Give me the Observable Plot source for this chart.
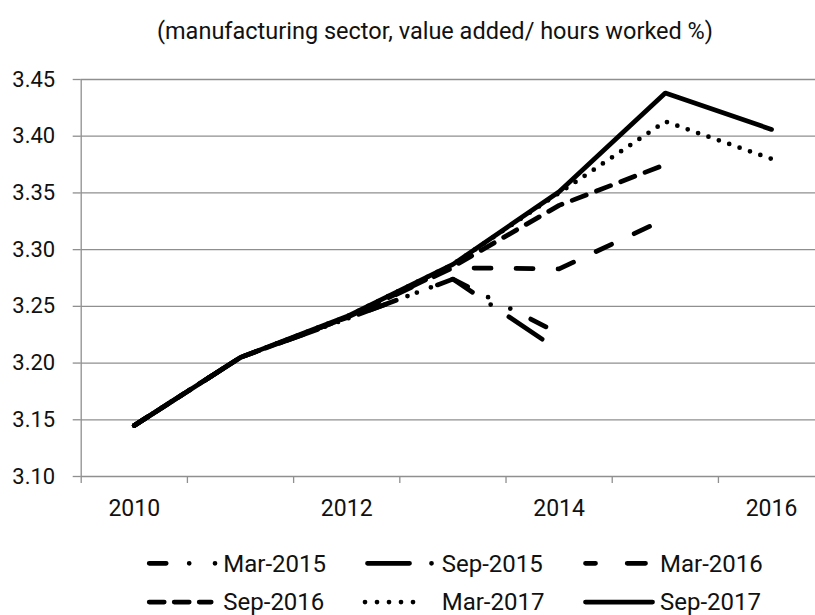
<!DOCTYPE html>
<html>
<head>
<meta charset="utf-8">
<script src="https://cdn.jsdelivr.net/npm/d3@7"></script>
<script src="https://cdn.jsdelivr.net/npm/@observablehq/plot@0.6"></script>
<style>
  body { margin: 0; background: #fff; font-family: Roboto, "Noto Sans", sans-serif; }
  #root { position: relative; width: 815px; height: 615px; overflow: hidden; background: #fff; }
  #title { position: absolute; left: 35px; width: 800px; top: 18.5px; text-align: center;
           font-size: 23.5px; line-height: 24px; color: #111; white-space: nowrap; }
  #chart { position: absolute; left: 0; top: 0; }
  #legend { position: absolute; left: 0; top: 530px; }
</style>
</head>
<body>
<div id="root">
  <div id="title">(manufacturing sector, value added/ hours worked %)</div>
  <div id="chart"></div>
  <svg id="legend" width="815" height="85"></svg>
</div>
<script>
// ---- data ----
const years = [2010, 2011, 2012, 2013, 2014, 2015, 2016];
const seriesNames = ["Mar-2015", "Sep-2015", "Mar-2016", "Sep-2016", "Mar-2017", "Sep-2017"];
const mar2015 = [3.145, 3.205, 3.239, 3.274, 3.226];
const sep2015 = [3.145, 3.205, 3.239, 3.274, 3.211];
const mar2016 = [3.145, 3.205, 3.240, 3.284, 3.283, 3.327];
const sep2016 = [3.145, 3.205, 3.240, 3.285, 3.339, 3.375];
const mar2017 = [3.145, 3.205, 3.241, 3.287, 3.350, 3.413, 3.380];
const sep2017 = [3.145, 3.205, 3.241, 3.287, 3.351, 3.438, 3.406];
const yTicks = [3.10, 3.15, 3.20, 3.25, 3.30, 3.35, 3.40, 3.45];
const xLabelYears = [2010, 2012, 2014, 2016];

// ---- styles ----
const seriesValues = [mar2015, sep2015, mar2016, sep2016, mar2017, sep2017];
const chartDash = ["17,23,0,25,0,23", "40,22,0,22", "17,25", "15,11", "0,11", null];
const legendDash = ["17,23,0,25.8,0,23", "42,22,0,22", "10,31.7,18.3,30", "15,10", "0,12", null];
const gridColor = "#8f8f8f";
const lineW = 4.75;

const rows = [];
seriesValues.forEach((vals, si) => vals.forEach((v, i) => rows.push({series: seriesNames[si], year: years[i], value: v})));

const bandEdges = d3.range(2009.5, 2016, 1);

const chart = Plot.plot({
  width: 815,
  height: 530,
  marginLeft: 80.7,
  marginRight: 0,
  marginTop: 79,
  marginBottom: 54,
  x: {domain: [2009.5, 2016.414], axis: null},
  y: {domain: [3.10, 3.45], axis: null},
  style: {fontFamily: "Roboto, 'Noto Sans', sans-serif", color: "#111", background: "transparent", overflow: "visible"},
  marks: [
    Plot.ruleY(yTicks, {stroke: gridColor, strokeWidth: 1.3}),
    Plot.ruleX([2009.5], {stroke: gridColor, strokeWidth: 1.3}),
    Plot.axisY({ticks: yTicks, tickSize: 8, tickPadding: 18, tickFormat: d3.format(".2f"),
                stroke: gridColor, strokeWidth: 1.3, fill: "#111", fontSize: 22, label: null}),
    Plot.axisX({ticks: bandEdges, tickSize: 7, tickFormat: () => "", stroke: gridColor, strokeWidth: 1.3, label: null}),
    Plot.axisX({ticks: xLabelYears, tickSize: 0, tickPadding: 22.7, tickFormat: d => String(d),
                fill: "#111", fontSize: 23, label: null}),
    ...seriesNames.map((name, si) => Plot.line(rows.filter(d => d.series === name), {
      x: "year", y: "value", stroke: "#000", strokeWidth: lineW,
      strokeDasharray: chartDash[si] || undefined,
      strokeLinecap: "round", strokeLinejoin: "round"
    }))
  ]
});
document.getElementById("chart").appendChild(chart);

// ---- legend ----
const legend = d3.select("#legend");
const colX = [146.7, 365, 583];       // visible swatch starts
const rowY = [33.3, 72];              // line centers
const rowBase = [41.7, 79.5];         // text baselines
const swatchLen = [66.3, 65, 60, 62, 60, 67];
const textX = [223.3, 441.7, 660];
seriesNames.forEach((name, i) => {
  const r = Math.floor(i / 3), c = i % 3;
  const x0 = colX[c] + (legendDash[i] === "0,12" ? 0 : 2.5);
  legend.append("line")
    .attr("x1", x0).attr("x2", x0 + swatchLen[i])
    .attr("y1", rowY[r]).attr("y2", rowY[r])
    .attr("stroke", "#000").attr("stroke-width", lineW)
    .attr("stroke-linecap", "round")
    .attr("stroke-dasharray", legendDash[i]);
  legend.append("text")
    .attr("x", textX[c]).attr("y", rowBase[r])
    .attr("font-family", "Roboto, 'Noto Sans', sans-serif")
    .attr("font-size", 24).attr("fill", "#111")
    .text(name);
});
</script>
</body>
</html>
